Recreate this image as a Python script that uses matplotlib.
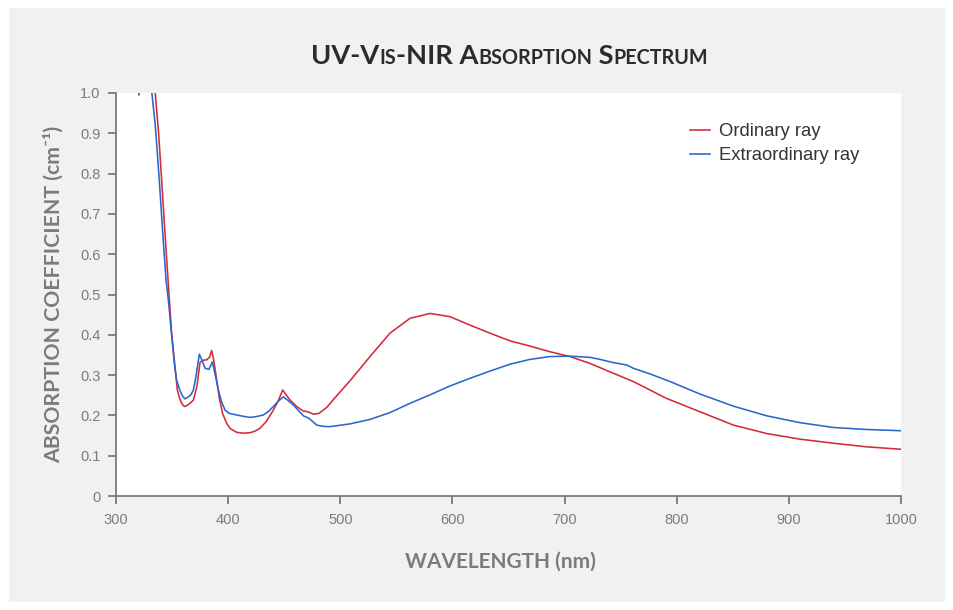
import matplotlib
matplotlib.use("Agg")
import matplotlib.pyplot as plt
from matplotlib.patches import Rectangle

# ---------------- data ----------------
ord_wl = [325, 330, 335, 338, 340.7, 343.5, 346.4, 349.6, 352.6, 354.7, 357, 359, 361, 363,
          366, 369, 372, 375, 378, 381, 383.5, 385.3, 387, 389.8, 392, 395, 398.7, 402,
          407.6, 413, 419.5, 424, 428.4, 434, 440.3, 445, 448.6, 452, 455.2, 461.1, 467,
          471, 476, 481, 488, 495, 508.7, 526.5, 544.3, 562.2, 580, 597.8, 615.7, 633.5,
          651.3, 669.2, 687, 704.8, 722.7, 740.5, 761.3, 791, 820.8, 850.5, 880.2, 909.9,
          939.7, 969.4, 1000]
ord_val = [1.25, 1.12, 1.0, 0.9, 0.784, 0.66, 0.536, 0.404, 0.321, 0.263, 0.240, 0.228, 0.222, 0.224,
           0.230, 0.238, 0.27, 0.332, 0.337, 0.338, 0.345, 0.361, 0.34, 0.288, 0.245, 0.205, 0.180, 0.167,
           0.158, 0.156, 0.157, 0.161, 0.168, 0.185, 0.213, 0.238, 0.263, 0.250, 0.238, 0.222, 0.211,
           0.209, 0.203, 0.205, 0.220, 0.243, 0.286, 0.346, 0.404, 0.441, 0.453, 0.445, 0.424, 0.404,
           0.385, 0.372, 0.358, 0.346, 0.329, 0.308, 0.284, 0.242, 0.209, 0.176, 0.155, 0.141,
           0.131, 0.122, 0.116]

ext_wl = [318, 320.5, 323, 327, 332, 335, 338.6, 341.5, 344.6, 346.7, 349.6, 352, 354, 357,
          359.5, 361.5, 364, 367, 369, 371.5, 374.3, 376.5, 379.4, 382.9, 385.9, 388.5, 391.3,
          394, 397.2, 401, 407.6, 413, 419.5, 425, 431.4, 436, 440.3, 445, 449.2, 453, 458.1,
          462, 467, 472, 479, 484, 490.8, 508.7, 526.5, 544.3, 562.2, 580, 597.8, 615.7, 633.5,
          651.3, 669.2, 687, 704.8, 722.7, 731.6, 743.5, 755.4, 761.3, 776.2, 794, 820.8, 850.5,
          880.2, 909.9, 939.7, 969.4, 1000]
ext_val = [1.06, 0.995, 1.06, 1.12, 1.0, 0.92, 0.784, 0.66, 0.536, 0.486, 0.40, 0.33, 0.288, 0.262,
           0.247, 0.241, 0.245, 0.252, 0.263, 0.30, 0.352, 0.338, 0.317, 0.314, 0.333, 0.30, 0.263,
           0.235, 0.213, 0.205, 0.201, 0.198, 0.195, 0.197, 0.201, 0.210, 0.222, 0.236, 0.246, 0.238, 0.226,
           0.214, 0.199, 0.193, 0.176, 0.173, 0.172, 0.179, 0.190, 0.207, 0.230, 0.251, 0.273, 0.292, 0.310,
           0.327, 0.339, 0.346, 0.347, 0.344, 0.339, 0.331, 0.325, 0.317, 0.303, 0.284, 0.253, 0.223,
           0.199, 0.182, 0.170, 0.165, 0.162]

x_ticks = [300, 400, 500, 600, 700, 800, 900, 1000]
y_ticks = [0, 0.1, 0.2, 0.3, 0.4, 0.5, 0.6, 0.7, 0.8, 0.9, 1.0]
y_tick_labels = ["0", "0.1", "0.2", "0.3", "0.4", "0.5", "0.6", "0.7", "0.8", "0.9", "1.0"]
series_labels = ["Ordinary ray", "Extraordinary ray"]

RED = "#d42a3a"
BLUE = "#2a66cc"
GRAY = "#7b7b7b"
BG = "#f1f1f1"

W, H = 954, 610
fig = plt.figure(figsize=(W / 100, H / 100), dpi=100, facecolor="white")
fig.patches.append(Rectangle((9 / W, 8 / H), (945 - 9) / W, (602 - 8) / H,
                             transform=fig.transFigure, facecolor=BG, edgecolor="none", zorder=-10))

ax = fig.add_axes([116 / W, (H - 496) / H, (901 - 116) / W, (496 - 93) / H])
ax.set_facecolor("white")
ax.plot(ord_wl, ord_val, color=RED, lw=1.15, label=series_labels[0])
ax.plot(ext_wl, ext_val, color=BLUE, lw=1.15, label=series_labels[1])
ax.set_xlim(300, 1000)
ax.set_ylim(0, 1.0)
ax.set_xticks(x_ticks)
ax.set_xticklabels([str(t) for t in x_ticks])
ax.set_yticks(y_ticks)
ax.set_yticklabels(y_tick_labels)
for s in ["top", "right"]:
    ax.spines[s].set_visible(False)
for s in ["left", "bottom"]:
    ax.spines[s].set_color(GRAY)
    ax.spines[s].set_linewidth(1.3)
ax.tick_params(direction="out", length=6, width=1.3, color=GRAY, labelcolor=GRAY,
               labelsize=10.5, pad=5)
ax.tick_params(axis="x", pad=6)
for lab in ax.get_xticklabels() + ax.get_yticklabels():
    lab.set_family("Liberation Sans")

ax.set_xlabel("WAVELENGTH (nm)", family=["Lato", "DejaVu Sans"], fontweight="bold",
              fontsize=15, color=GRAY, labelpad=18)
ax.xaxis.set_label_coords((500 - 116) / (901 - 116), -0.138)
ax.set_ylabel("ABSORPTION COEFFICIENT (cm\u207b\u00b9)", family=["Lato", "DejaVu Sans"],
              fontweight="bold", fontsize=15.3, color=GRAY, labelpad=12)

leg = ax.legend(loc="upper left", bbox_to_anchor=(690 / W, (H - 123) / H),
                bbox_transform=fig.transFigure, frameon=False, handlelength=1.08,
                handletextpad=0.48, labelspacing=0.38, borderpad=0, borderaxespad=0,
                prop={"family": "Liberation Sans", "size": 13.3})
for t in leg.get_texts():
    t.set_color("#333333")

# ---------------- small-caps title ----------------
pieces = [("UV-V", 19.6), ("IS", 14.2), ("-NIR A", 19.6), ("BSORPTION", 14.2), (" S", 19.6), ("PECTRUM", 14.2)]
renderer = fig.canvas.get_renderer()
texts = []
widths = []
for s, sz in pieces:
    t = fig.text(0, 0, s, fontsize=sz, fontweight="bold", family="Lato", color="#2b2b2b",
                 va="baseline", ha="left")
    bb = t.get_window_extent(renderer=renderer)
    texts.append(t)
    widths.append(bb.width)
total = sum(widths)
x0 = 509.5 - total / 2
base_y = (H - 63.5) / H
for t, w in zip(texts, widths):
    t.set_position((x0 / W, base_y))
    x0 += w

fig.savefig("out.png", dpi=100, facecolor="white")
